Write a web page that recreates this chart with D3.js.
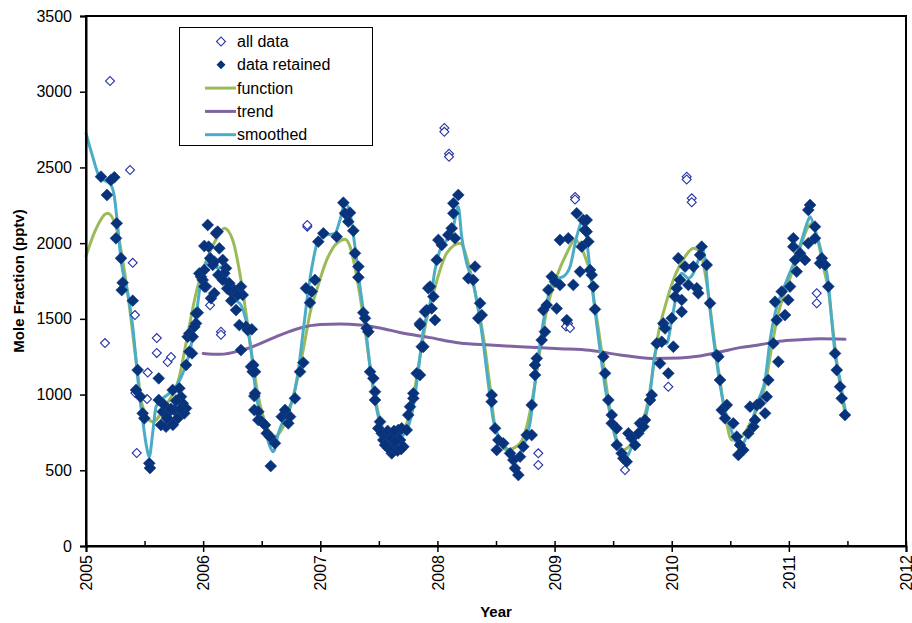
<!DOCTYPE html>
<html>
<head>
<meta charset="utf-8">
<script src="https://cdn.jsdelivr.net/npm/d3@7"></script>
<style>
  html, body { margin: 0; padding: 0; background: #fff; }
  svg { display: block; font-family: "Liberation Sans", Arial, sans-serif; }
</style>
</head>
<body>
<svg id="chart" width="912" height="623"></svg>
<script>
// ---------- DATA ----------
const yTicks = [0, 500, 1000, 1500, 2000, 2500, 3000, 3500];
const xTicks = [2005, 2006, 2007, 2008, 2009, 2010, 2011, 2012];
const legendLabels = ["all data", "data retained", "function", "trend", "smoothed"];

// points rejected as outliers (shown only as open diamonds)
const outliers = [
  [2005.205,3071],[2005.162,1340],[2005.376,2483],[2005.399,1870],[2005.418,1525],[2005.433,614],
  [2005.604,1373],[2005.604,1275],[2005.697,1215],[2005.726,1248],[2005.527,1145],[2005.421,1010],
  [2005.521,970],[2006.152,1415],[2006.152,1395],[2006.059,1590],[2006.889,2109],[2006.889,2120],
  [2008.059,2760],[2008.059,2735],[2008.099,2590],[2008.099,2570],[2009.175,2305],[2009.175,2288],
  [2009.115,1470],[2009.098,1450],[2009.132,1440],[2008.861,612],[2008.861,535],
  [2010.128,2439],[2010.128,2420],[2010.171,2296],[2010.171,2270],[2009.971,1052],[2009.601,502],
  [2011.238,1669],[2011.238,1603]
];

// retained points
const retained = [
  [2005.128,2439],[2005.213,2417],[2005.242,2435],[2005.179,2318],[2005.262,2131],[2005.256,2032],
  [2005.299,1900],[2005.313,1739],[2005.305,1690],[2005.399,1620],[2005.441,1162],[2005.427,1030],
  [2005.464,986],[2005.484,876],[2005.498,843],[2005.621,1107],[2005.621,964],[2005.540,546],
  [2005.546,515],[2005.655,887],[2005.683,788],[2005.711,832],[2005.740,1030],[2005.754,898],
  [2005.783,843],[2005.811,986],[2005.826,942],[2005.839,876],[2005.797,1041],[2005.854,909],
  [2005.697,876],[2005.640,799],[2005.854,1195],[2005.882,1283],[2005.905,1272],[2005.868,1382],
  [2005.882,1404],[2005.939,1470],[2005.925,1448],[2005.954,1541],[2005.939,1536],[2005.911,1382],
  [2005.670,930],[2005.725,905],[2005.768,960],[2005.805,905],[2005.742,800],[2005.690,845],
  [2005.982,1778],[2005.967,1800],[2005.996,1757],[2006.010,1823],[2006.024,1713],[2006.047,1977],
  [2006.010,1981],[2006.039,2120],[2006.124,2076],[2006.110,2065],[2006.138,1966],[2006.082,1856],
  [2006.095,1878],[2006.167,1889],[2006.195,1834],[2006.181,1801],[2006.167,1757],[2006.223,1735],
  [2006.010,1713],[2006.095,1669],[2006.067,1636],[2006.252,1669],[2006.266,1691],[2006.323,1713],
  [2006.338,1658],[2006.295,1658],[2006.281,1558],[2006.309,1459],[2006.366,1448],[2006.380,1426],
  [2006.323,1294],[2006.409,1184],[2006.423,1151],[2006.437,898],[2006.437,990],
  [2006.060,1900],[2006.130,1790],[2006.205,1700],[2006.240,1620],
  [2006.415,1431],[2006.428,1195],[2006.443,1151],[2006.443,1008],[2006.471,887],[2006.471,832],
  [2006.500,821],[2006.528,799],[2006.543,744],[2006.571,722],[2006.613,678],[2006.577,528],
  [2006.671,854],[2006.699,898],[2006.727,810],[2006.742,854],[2006.784,975],[2006.827,1151],
  [2006.855,1211],[2006.912,1607],[2006.927,1680],[2006.878,1702],[2006.955,1757],[2006.983,2010],
  [2007.026,2065],[2007.140,2043],[2007.197,2267],[2007.211,2197],[2007.254,2201],[2007.239,2142],
  [2007.282,2082],[2007.296,1933],[2007.325,1845],[2007.325,1774],[2007.367,1541],[2007.382,1504],
  [2007.396,1438],[2007.410,1415],[2007.425,1151],[2007.453,1107],[2007.467,1019],[2007.467,964],
  [2007.510,821],[2007.495,777],[2007.524,744],[2007.538,700],[2007.567,722],[2007.595,678],
  [2007.623,656],[2007.610,612],[2007.652,744],[2007.681,700],[2007.709,656],[2007.666,766],
  [2007.581,645],[2007.553,667],[2007.695,777],[2007.738,766],[2007.751,865],[2007.766,920],
  [2007.600,720],[2007.640,690],[2007.660,630],[2007.575,760],[2007.630,760],[2007.690,640],
  [2007.794,975],[2007.794,1008],[2007.823,1140],[2007.866,1316],[2007.851,1470],[2007.894,1547],
  [2007.922,1702],[2007.851,1459],[2007.880,1316],[2007.851,1129],[2007.908,1558],[2007.951,1569],
  [2007.979,1492],[2007.937,1713],[2007.965,1647],[2007.994,1889],[2008.008,2021],[2008.037,1988],
  [2008.093,2054],[2008.122,2098],[2008.150,2032],[2008.136,2197],[2008.136,2263],[2008.178,2318],
  [2008.264,1768],[2008.306,1757],[2008.321,1845],[2008.364,1603],[2008.378,1525],[2008.349,1504],
  [2008.463,997],[2008.463,953],[2008.492,777],[2008.520,700],[2008.506,634],[2008.562,678],
  [2008.620,612],[2008.648,568],[2008.662,513],[2008.691,469],[2008.705,590],[2008.733,656],
  [2008.762,733],[2008.805,733],[2008.805,931],[2008.833,1129],[2008.833,1195],[2008.848,1239],
  [2008.890,1360],[2008.918,1415],[2008.904,1558],[2008.933,1591],[2008.947,1691],[2008.976,1779],
  [2009.004,1746],[2009.046,1724],[2009.018,1569],[2009.046,2021],[2009.117,2032],[2009.160,1724],
  [2009.104,1492],[2009.189,2197],[2009.245,2153],[2009.260,2087],[2009.232,1977],[2009.217,1812],
  [2009.274,2153],[2009.274,2076],[2009.288,2010],[2009.303,1823],[2009.317,1790],[2009.331,1713],
  [2009.345,1563],[2009.416,1250],[2009.431,1140],[2009.459,964],[2009.488,865],[2009.488,810],
  [2009.531,777],[2009.531,667],[2009.573,612],[2009.587,579],[2009.616,557],[2009.630,744],
  [2009.659,711],[2009.687,667],[2009.715,744],[2009.729,810],[2009.772,832],[2009.758,788],
  [2009.815,964],[2009.829,997],[2009.872,1338],[2009.915,1349],[2009.900,1206],[2009.971,1140],
  [2010.014,1316],[2009.928,1470],[2009.943,1437],[2010.000,1504],[2010.043,1702],[2010.028,1647],
  [2010.085,1625],[2010.085,1547],[2010.071,1757],[2010.056,1900],[2010.114,1845],[2010.142,1724],
  [2010.185,1845],[2010.214,1702],[2010.227,1669],[2010.256,1977],[2010.242,1922],[2010.299,1856],
  [2010.327,1603],[2010.384,1261],[2010.398,1250],[2010.412,1096],[2010.427,898],[2010.470,931],
  [2010.455,843],[2010.526,810],[2010.555,722],[2010.583,667],[2010.569,601],[2010.611,634],
  [2010.654,744],[2010.697,788],[2010.669,920],[2010.726,931],[2010.711,832],
  [2010.754,942],[2010.797,876],[2010.811,986],[2010.825,1096],[2010.867,1338],[2010.910,1217],
  [2010.896,1492],[2010.882,1613],[2010.939,1680],[2010.967,1525],[2010.995,1625],[2011.010,1713],
  [2011.067,1812],[2011.053,1889],[2011.095,1933],[2011.038,1977],[2011.038,2032],[2011.138,1889],
  [2011.166,1999],[2011.181,2252],[2011.166,2219],[2011.223,2109],[2011.223,2032],[2011.281,1900],
  [2011.309,1856],[2011.266,1867],[2011.337,1713],[2011.394,1272],[2011.409,1162],[2011.437,1052],
  [2011.451,975],[2011.479,865]
];

// fitted harmonic function
const functionCurve = [
  [2005.000,1915],[2005.077,2080],[2005.185,2197],[2005.256,2109],[2005.356,1669],[2005.427,1228],
  [2005.484,920],[2005.569,821],[2005.683,930],[2005.797,1118],[2005.854,1338],[2005.939,1669],
  [2006.052,1933],[2006.124,2043],[2006.181,2098],[2006.252,2021],[2006.323,1757],[2006.366,1537],
  [2006.409,1294],[2006.468,1000],[2006.543,788],[2006.613,722],[2006.684,788],[2006.770,986],
  [2006.870,1360],[2006.912,1537],[2006.970,1691],[2007.055,1889],[2007.140,1999],[2007.211,2025],
  [2007.254,1977],[2007.311,1779],[2007.367,1514],[2007.425,1184],[2007.467,986],[2007.510,832],
  [2007.595,722],[2007.709,766],[2007.794,986],[2007.851,1250],[2007.908,1500],[2007.965,1669],
  [2008.079,1933],[2008.193,1999],[2008.278,1823],[2008.335,1625],[2008.392,1382],[2008.449,1052],
  [2008.492,788],[2008.592,634],[2008.705,678],[2008.762,788],[2008.833,1074],[2008.876,1294],
  [2008.933,1558],[2009.018,1779],[2009.104,1933],[2009.175,2021],[2009.260,1911],[2009.303,1801],
  [2009.345,1581],[2009.388,1360],[2009.431,1118],[2009.473,898],[2009.516,744],[2009.573,634],
  [2009.659,678],[2009.744,810],[2009.801,964],[2009.843,1184],[2009.886,1404],[2009.943,1581],
  [2010.014,1757],[2010.114,1911],[2010.185,1966],[2010.242,1944],[2010.285,1801],[2010.327,1581],
  [2010.370,1316],[2010.412,1096],[2010.455,876],[2010.512,700],[2010.597,722],[2010.683,832],
  [2010.754,950],[2010.797,1060],[2010.854,1316],[2010.910,1537],[2010.995,1735],[2011.081,1933],
  [2011.166,2109],[2011.198,2130],[2011.238,2050],[2011.294,1845],[2011.337,1691],[2011.380,1404],
  [2011.422,1140],[2011.479,876]
];

// long-term trend
const trendCurve = [
  [2006.000,1272],[2006.144,1266],[2006.315,1290],[2006.450,1325],[2006.656,1393],[2006.827,1440],
  [2006.998,1462],[2007.168,1466],[2007.339,1459],[2007.510,1440],[2007.680,1410],[2007.937,1376],
  [2008.190,1340],[2008.449,1327],[2008.705,1316],[2009.046,1303],[2009.300,1292],[2009.560,1262],
  [2009.830,1239],[2010.070,1242],[2010.240,1255],[2010.410,1281],[2010.580,1310],[2010.740,1327],
  [2010.920,1352],[2011.095,1362],[2011.266,1368],[2011.480,1365]
];

// smoothed curve
const smoothedCurve = [
  [2005.000,2725],[2005.057,2571],[2005.114,2439],[2005.213,2384],[2005.242,2307],[2005.271,2109],
  [2005.299,1889],[2005.356,1669],[2005.399,1448],[2005.427,1228],[2005.455,1008],[2005.484,832],
  [2005.512,678],[2005.540,590],[2005.569,744],[2005.598,920],[2005.640,964],[2005.711,1008],
  [2005.768,1052],[2005.826,1140],[2005.882,1272],[2005.939,1514],[2005.982,1757],[2006.024,1867],
  [2006.082,1889],[2006.124,1834],[2006.167,1845],[2006.223,1735],[2006.281,1625],[2006.323,1591],
  [2006.366,1492],[2006.409,1294],[2006.451,1008],[2006.485,876],[2006.528,766],[2006.571,656],
  [2006.599,623],[2006.642,744],[2006.713,876],[2006.770,986],[2006.813,1162],[2006.855,1426],
  [2006.898,1691],[2006.940,1889],[2006.983,2021],[2007.055,2054],[2007.126,2065],[2007.168,2153],
  [2007.211,2263],[2007.254,2197],[2007.296,1977],[2007.339,1713],[2007.382,1470],[2007.425,1184],
  [2007.467,964],[2007.510,810],[2007.567,711],[2007.623,678],[2007.695,722],[2007.751,788],
  [2007.794,920],[2007.837,1162],[2007.880,1426],[2007.937,1603],[2007.979,1823],[2008.022,1955],
  [2008.079,2021],[2008.136,2109],[2008.178,2241],[2008.207,2043],[2008.250,1867],[2008.306,1735],
  [2008.349,1558],[2008.392,1338],[2008.434,1074],[2008.477,832],[2008.534,700],[2008.605,634],
  [2008.677,590],[2008.733,656],[2008.790,810],[2008.833,1074],[2008.876,1338],[2008.933,1603],
  [2008.990,1757],[2009.075,1779],[2009.132,1845],[2009.189,2043],[2009.245,2153],[2009.274,2021],
  [2009.303,1823],[2009.345,1558],[2009.388,1294],[2009.431,1052],[2009.473,876],[2009.516,722],
  [2009.573,612],[2009.616,590],[2009.659,656],[2009.715,744],[2009.772,832],[2009.815,1008],
  [2009.858,1272],[2009.900,1349],[2009.957,1338],[2010.000,1492],[2010.043,1669],[2010.085,1801],
  [2010.142,1768],[2010.185,1801],[2010.227,1889],[2010.256,1977],[2010.285,1889],[2010.312,1669],
  [2010.355,1382],[2010.398,1140],[2010.441,942],[2010.498,788],[2010.540,700],[2010.583,656],
  [2010.640,722],[2010.697,854],[2010.740,964],[2010.797,1096],[2010.840,1360],[2010.882,1537],
  [2010.939,1669],[2010.995,1779],[2011.053,1889],[2011.110,2021],[2011.166,2153],[2011.181,2175],
  [2011.223,2087],[2011.281,1933],[2011.337,1735],[2011.366,1492],[2011.394,1272],[2011.437,1096],
  [2011.465,964],[2011.494,854]
];

// ---------- CHART ----------
const svg = d3.select("#chart");
const plot = { left: 86, right: 906, top: 16, bottom: 546 };

const x = d3.scaleLinear().domain([2005, 2012]).range([plot.left, plot.right]);
const y = d3.scaleLinear().domain([0, 3500]).range([plot.bottom, plot.top]);

const colAll = "#2432A6";
const colRet = "#07337A";
const colFunc = "#9BBB59";
const colTrend = "#8064A2";
const colSmooth = "#4BACC6";

// lines
const line = d3.line().x(d => x(d[0])).y(d => y(d[1])).curve(d3.curveMonotoneX);
const lineG = svg.append("g");
[[functionCurve, colFunc], [trendCurve, colTrend], [smoothedCurve, colSmooth]].forEach(([data, c]) => {
  lineG.append("path").datum(data).attr("d", line)
    .attr("fill", "none").attr("stroke", c).attr("stroke-width", 3)
    .attr("stroke-linejoin", "round").attr("stroke-linecap", "round");
});

// markers
const openSym = d3.symbol().type(d3.symbolSquare).size(40);
const fillSym = d3.symbol().type(d3.symbolSquare).size(70);
const allData = outliers.concat(retained);

svg.append("g").selectAll("path").data(allData).join("path")
  .attr("d", openSym)
  .attr("transform", d => `translate(${x(d[0])},${y(d[1])}) rotate(45)`)
  .attr("fill", "#fff").attr("stroke", colAll).attr("stroke-width", 1.1);

svg.append("g").selectAll("path").data(retained).join("path")
  .attr("d", fillSym)
  .attr("transform", d => `translate(${x(d[0])},${y(d[1])}) rotate(45)`)
  .attr("fill", colRet).attr("stroke", "#1d4088").attr("stroke-width", 0.6);

// frame
svg.append("rect")
  .attr("x", plot.left).attr("y", plot.top)
  .attr("width", plot.right - plot.left).attr("height", plot.bottom - plot.top)
  .attr("fill", "none").attr("stroke", "#000").attr("stroke-width", 2);

// y axis
const yAxis = svg.append("g").attr("transform", `translate(${plot.left},0)`)
  .call(d3.axisLeft(y).tickValues(yTicks).tickSize(6).tickPadding(8).tickFormat(d3.format("d")));
yAxis.select(".domain").attr("stroke-width", 2);
yAxis.selectAll(".tick line").attr("stroke-width", 1.5);
yAxis.selectAll("text").attr("font-size", 16).attr("fill", "#000")
  .attr("font-family", "Liberation Sans, Arial, sans-serif");

// x axis minor (inside) ticks
const minorTicks = d3.range(2005, 2012.01, 0.5);
const xMinor = svg.append("g").attr("transform", `translate(0,${plot.bottom})`)
  .call(d3.axisBottom(x).tickValues(minorTicks).tickSize(-5).tickFormat(""));
xMinor.select(".domain").remove();
xMinor.selectAll(".tick line").attr("stroke-width", 1.5);

// x axis major ticks
const xAxis = svg.append("g").attr("transform", `translate(0,${plot.bottom})`)
  .call(d3.axisBottom(x).tickValues(xTicks).tickSize(6).tickFormat(d3.format("d")));
xAxis.select(".domain").attr("stroke-width", 2);
xAxis.selectAll(".tick line").attr("stroke-width", 1.5);
xAxis.selectAll("text")
  .attr("font-size", 16).attr("fill", "#000")
  .attr("font-family", "Liberation Sans, Arial, sans-serif")
  .attr("transform", "rotate(-90)")
  .attr("text-anchor", "end")
  .attr("x", -9).attr("y", 0).attr("dy", "0.35em");

// axis titles
svg.append("text").attr("x", (plot.left + plot.right) / 2).attr("y", 617)
  .attr("text-anchor", "middle").attr("font-weight", "bold").attr("font-size", 15)
  .text("Year");
svg.append("text").attr("transform", `translate(24,${(plot.top + plot.bottom) / 2}) rotate(-90)`)
  .attr("text-anchor", "middle").attr("font-weight", "bold").attr("font-size", 15)
  .text("Mole Fraction (pptv)");

// legend
const lg = svg.append("g");
lg.append("rect").attr("x", 179.5).attr("y", 27.5).attr("width", 193).attr("height", 118)
  .attr("fill", "#fff").attr("stroke", "#000").attr("stroke-width", 1);
const rowY = i => 41.5 + i * 23.3;
legendLabels.forEach((lab, i) => {
  const cy = rowY(i);
  if (i === 0) {
    lg.append("path").attr("d", d3.symbol().type(d3.symbolSquare).size(40)())
      .attr("transform", `translate(221,${cy}) rotate(45)`)
      .attr("fill", "#fff").attr("stroke", colAll).attr("stroke-width", 1.1);
  } else if (i === 1) {
    lg.append("path").attr("d", d3.symbol().type(d3.symbolSquare).size(40)())
      .attr("transform", `translate(221,${cy}) rotate(45)`)
      .attr("fill", colRet);
  } else {
    const c = [colFunc, colTrend, colSmooth][i - 2];
    lg.append("line").attr("x1", 205).attr("x2", 236).attr("y1", cy).attr("y2", cy)
      .attr("stroke", c).attr("stroke-width", 3);
  }
  lg.append("text").attr("x", 237).attr("y", cy).attr("dy", "0.35em")
    .attr("font-size", 16).attr("fill", "#000").text(lab);
});
</script>
</body>
</html>
